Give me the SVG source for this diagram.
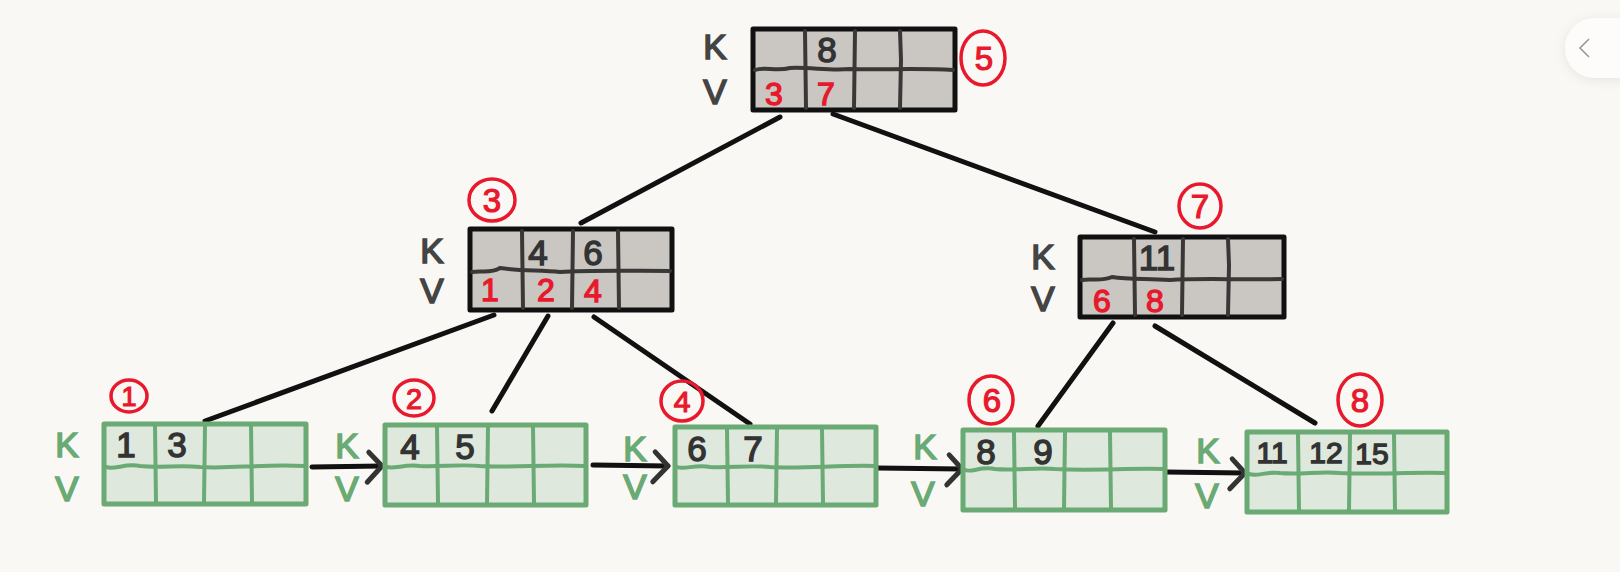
<svg xmlns="http://www.w3.org/2000/svg" width="1620" height="572" viewBox="0 0 1620 572">
<style>
.bg{fill:#faf8f4}
.inner{fill:#cac7c3;stroke:#111;stroke-width:5;stroke-linejoin:round}
.idiv{fill:none;stroke:#3a3836;stroke-width:4;stroke-linecap:round}
.leaf{fill:#dfe8dc;stroke:#6aaa74;stroke-width:5;stroke-linejoin:round}
.ldiv{fill:none;stroke:#6aaa74;stroke-width:4;stroke-linecap:round}
.kv{font-family:"Liberation Sans",Arial,sans-serif;font-size:35px;fill:#444;stroke:#444;stroke-width:1.6;text-anchor:middle}
.kvg{font-family:"Liberation Sans",Arial,sans-serif;font-size:35px;fill:#6aaa74;stroke:#6aaa74;stroke-width:1.6;text-anchor:middle}
.num{font-family:"Liberation Sans",Arial,sans-serif;font-size:35px;fill:#333;stroke:#333;stroke-width:1.4;text-anchor:middle}
.rnum{font-family:"Liberation Sans",Arial,sans-serif;font-size:32px;fill:#e8192c;stroke:#e8192c;stroke-width:1.4;text-anchor:middle}
.badge{fill:none;stroke:#e8192c;stroke-width:3.5}
.btxt{font-family:"Liberation Sans",Arial,sans-serif;font-size:33px;fill:#e8192c;stroke:#e8192c;stroke-width:1.2;text-anchor:middle}
.edge{fill:none;stroke:#111;stroke-width:5;stroke-linecap:round}
.arrow{fill:none;stroke:#111;stroke-width:5;stroke-linecap:round;marker-end:url(#chev)}
</style>
<defs>
<marker id="chev" markerUnits="userSpaceOnUse" viewBox="-20 -20 26 40" refX="0" refY="0" markerWidth="26" markerHeight="40" orient="auto">
<path d="M-13,-14 L0,0 L-15,16" fill="none" stroke="#333" stroke-width="5" stroke-linecap="round" stroke-linejoin="round"/>
</marker>
<filter id="sh" x="-50%" y="-50%" width="200%" height="200%">
<feDropShadow dx="0" dy="2" stdDeviation="6" flood-color="#000" flood-opacity="0.08"/>
</filter>
</defs>
<rect class="bg" x="0" y="0" width="1620" height="572"/>

<g id="ui-button">
<rect x="1565" y="18" width="100" height="60" rx="30" fill="#fdfcfa" filter="url(#sh)"/>
<polyline points="1589,39 1580,48 1589,57" fill="none" stroke="#999" stroke-width="1.6"/>
</g>

<g id="connectors">
<path class="edge" d="M780,117 L581,223"/>
<path class="edge" d="M833,114 L1155,232"/>
<path class="edge" d="M494,315 L205,421"/>
<path class="edge" d="M548,316 L492,411"/>
<path class="edge" d="M594,317 L750,424"/>
<path class="edge" d="M1113,323 L1038,426"/>
<path class="edge" d="M1155,326 L1315,423"/>
<path class="arrow" d="M312,467 L382,466"/>
<path class="arrow" d="M593,465 L668,466"/>
<path class="arrow" d="M877,468 L962,469"/>
<path class="arrow" d="M1165,472 L1245,473"/>
</g>

<g id="node-root">
<rect class="inner" x="753" y="29" width="202" height="81"/>
<path class="idiv" d="M755,70 C765,66 775,72 790,68 C810,67 830,71 850,69 C880,70 920,68 953,70"/>
<path class="idiv" d="M805,31 L806,108 M855,31 L854,108 M900,31 L901,60 L900,108"/>
<text class="kv" x="715" y="59">K</text>
<text class="kv" x="715" y="104">V</text>
<text class="num" x="827" y="62">8</text>
<text class="rnum" x="774" y="105">3</text>
<text class="rnum" x="826" y="105">7</text>
<ellipse class="badge" cx="983" cy="58" rx="22" ry="27"/>
<text class="btxt" x="984" y="70">5</text>
</g>

<g id="node-3">
<rect class="inner" x="470" y="229" width="202" height="81"/>
<path class="idiv" d="M472,272 C482,270 490,274 500,268 C520,271 540,270 560,272 C590,270 630,271 670,271"/>
<path class="idiv" d="M522,231 L523,308 M573,231 L572,308 M618,231 L619,308"/>
<text class="kv" x="432" y="263">K</text>
<text class="kv" x="432" y="303">V</text>
<text class="num" x="538" y="265">4</text>
<text class="num" x="593" y="265">6</text>
<text class="rnum" x="490" y="301">1</text>
<text class="rnum" x="546" y="301">2</text>
<text class="rnum" x="593" y="302">4</text>
<ellipse class="badge" cx="492" cy="200" rx="23" ry="21"/>
<text class="btxt" x="492" y="212">3</text>
</g>

<g id="node-7">
<rect class="inner" x="1080" y="237" width="204" height="80"/>
<path class="idiv" d="M1082,280 C1092,278 1100,282 1112,277 C1130,280 1150,278 1170,280 C1200,278 1240,280 1282,279"/>
<path class="idiv" d="M1134,239 L1135,315 M1183,239 L1182,315 M1228,239 L1229,265 L1228,315"/>
<text class="kv" x="1043" y="269">K</text>
<text class="kv" x="1043" y="311">V</text>
<text class="num" x="1157" y="270">11</text>
<text class="rnum" x="1102" y="312">6</text>
<text class="rnum" x="1155" y="312">8</text>
<ellipse class="badge" cx="1200" cy="206" rx="21" ry="22"/>
<text class="btxt" x="1200" y="218">7</text>
</g>

<g id="leaf-1">
<rect class="leaf" x="104" y="424" width="202" height="80"/>
<path class="ldiv" d="M106,467 C115,470 125,463 140,466 C160,468 180,465 200,467 C230,469 260,464 304,466"/>
<path class="ldiv" d="M155,426 L156,502 M205,426 L204,502 M251,426 L252,502"/>
<text class="kvg" x="67" y="457">K</text>
<text class="kvg" x="67" y="501">V</text>
<text class="num" x="126" y="457">1</text>
<text class="num" x="177" y="457">3</text>
<ellipse class="badge" cx="129" cy="396" rx="18" ry="16"/>
<text class="btxt" x="129" y="406" style="font-size:27px">1</text>
</g>

<g id="leaf-2">
<rect class="leaf" x="385" y="425" width="201" height="80"/>
<path class="ldiv" d="M387,467 C395,469 405,464 420,466 C440,467 460,464 480,466 C510,468 550,464 584,466"/>
<path class="ldiv" d="M437,427 L438,503 M488,427 L487,503 M533,427 L534,503"/>
<text class="kvg" x="347" y="458">K</text>
<text class="kvg" x="347" y="501">V</text>
<text class="num" x="410" y="459">4</text>
<text class="num" x="465" y="459">5</text>
<ellipse class="badge" cx="414" cy="398" rx="20" ry="18"/>
<text class="btxt" x="414" y="409" style="font-size:29px">2</text>
</g>

<g id="leaf-4">
<rect class="leaf" x="675" y="427" width="201" height="78"/>
<path class="ldiv" d="M677,467 C685,470 695,464 710,467 C730,468 750,465 770,467 C800,469 840,465 874,466"/>
<path class="ldiv" d="M727,429 L728,503 M777,429 L776,503 M822,429 L823,503"/>
<text class="kvg" x="635" y="461">K</text>
<text class="kvg" x="635" y="499">V</text>
<text class="num" x="697" y="461">6</text>
<text class="num" x="753" y="461">7</text>
<ellipse class="badge" cx="682" cy="401" rx="21" ry="20"/>
<text class="btxt" x="682" y="412" style="font-size:30px">4</text>
</g>

<g id="leaf-6">
<rect class="leaf" x="963" y="430" width="202" height="80"/>
<path class="ldiv" d="M965,470 C972,473 980,466 995,469 C1015,471 1035,467 1055,469 C1090,471 1130,468 1163,469"/>
<path class="ldiv" d="M1014,432 L1015,508 M1065,432 L1064,508 M1110,432 L1111,508"/>
<text class="kvg" x="925" y="459">K</text>
<text class="kvg" x="923" y="506">V</text>
<text class="num" x="986" y="464">8</text>
<text class="num" x="1043" y="464">9</text>
<ellipse class="badge" cx="991" cy="400" rx="22" ry="24"/>
<text class="btxt" x="992" y="412">6</text>
</g>

<g id="leaf-8">
<rect class="leaf" x="1247" y="432" width="200" height="80"/>
<path class="ldiv" d="M1249,474 C1258,477 1266,471 1280,473 C1300,475 1320,471 1340,473 C1370,475 1410,472 1445,473"/>
<path class="ldiv" d="M1298,434 L1299,510 M1350,434 L1349,510 M1394,434 L1395,510"/>
<text class="kvg" x="1208" y="463">K</text>
<text class="kvg" x="1207" y="508">V</text>
<text class="num" x="1272" y="463" style="font-size:30px">11</text>
<text class="num" x="1326" y="463" style="font-size:30px">12</text>
<text class="num" x="1372" y="464" style="font-size:30px">15</text>
<ellipse class="badge" cx="1360" cy="400" rx="22" ry="26"/>
<text class="btxt" x="1360" y="412">8</text>
</g>
</svg>
